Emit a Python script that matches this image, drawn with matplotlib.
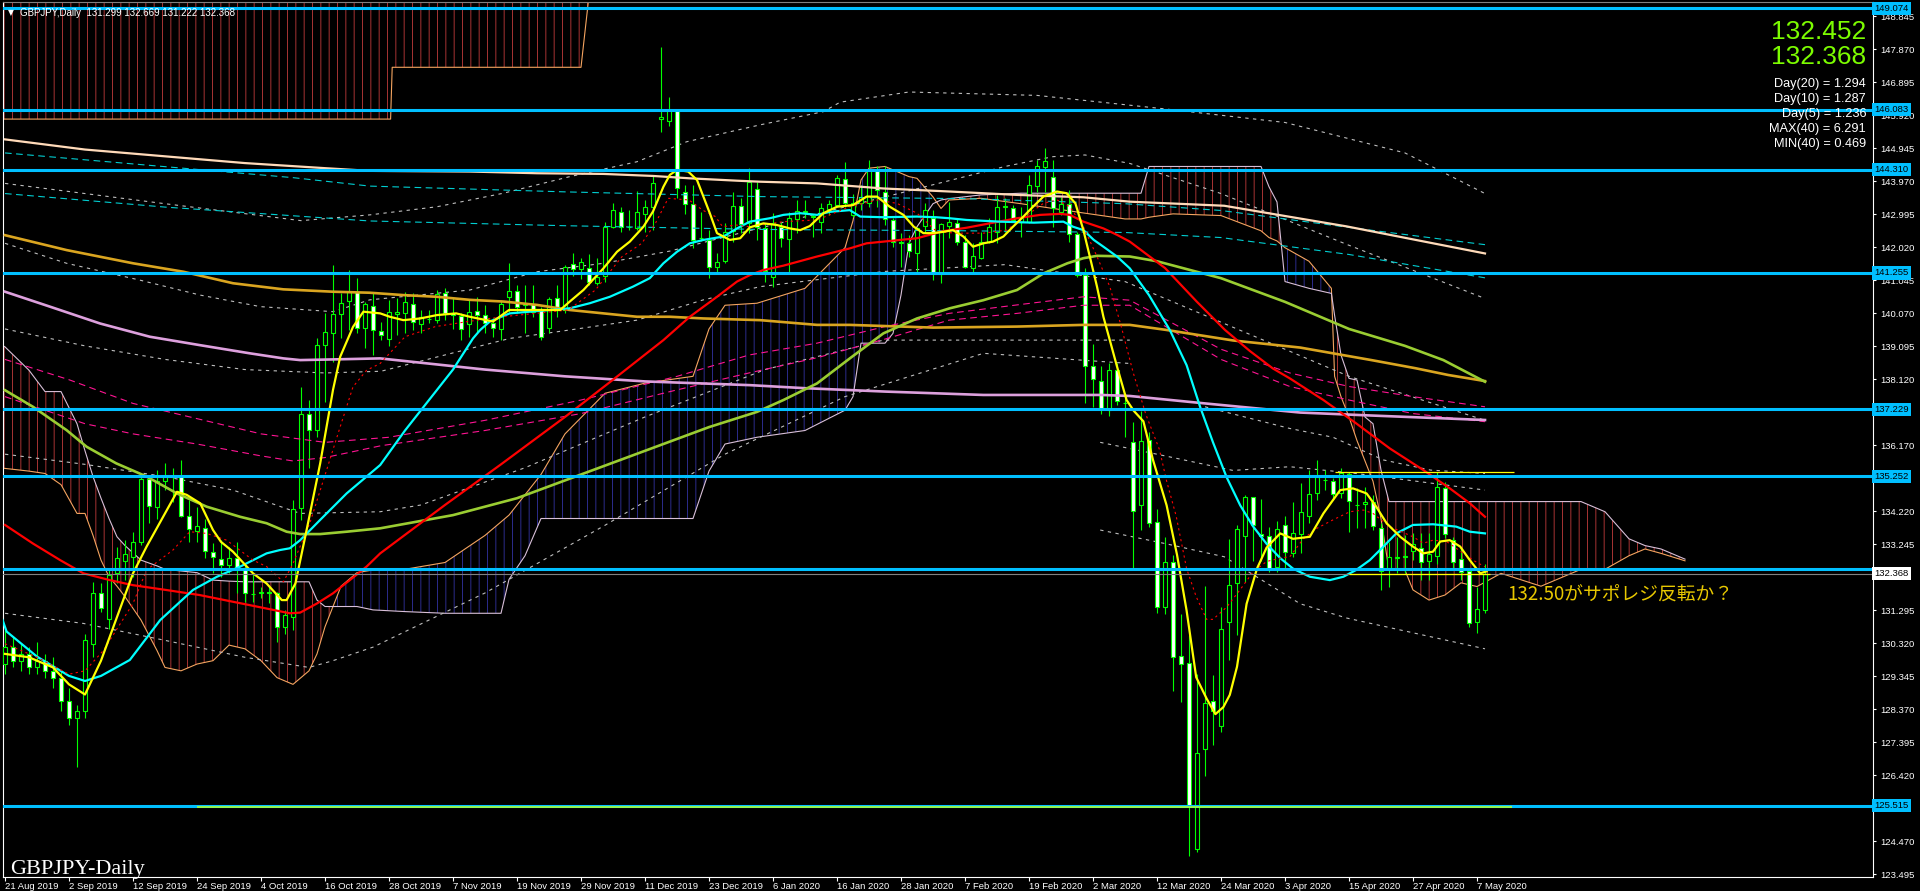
import numpy as np
import matplotlib
matplotlib.use('Agg')
import matplotlib.pyplot as plt
from matplotlib.transforms import blended_transform_factory

plt.rcParams['font.family'] = ['Liberation Sans', 'DejaVu Sans']
plt.rcParams['hatch.linewidth'] = 0.7

# ---------------------------------------------------------------------------
# daily candles, bar 0 = 21 Aug 2019 ... bar 185 = 8 May 2020
opens = [129.7, 130.2, 129.8, 130.0, 129.6, 129.8, 129.5, 129.3, 128.6, 128.1,
         128.3, 130.30, 131.79, 131.02, 132.38, 132.75, 132.87, 133.32, 135.16, 134.35,
         135.12, 135.22, 135.25, 134.07, 133.64, 133.71, 133.02, 132.79, 132.64, 132.84,
         132.53, 131.78, 131.81, 131.82, 131.79, 130.78, 131.10, 134.30, 137.09, 136.60,
         139.12, 139.47, 140.04, 140.42, 140.70, 139.62, 140.28, 139.54, 139.30, 140.03,
         140.06, 140.33, 139.76, 139.90, 139.85, 140.65, 140.06, 139.99, 139.75, 140.14,
         140.01, 139.79, 139.59, 140.55, 140.73, 140.30, 140.33, 140.16, 139.64, 140.50,
         140.16, 141.51, 141.36, 141.39, 140.97, 141.15, 142.62, 143.05, 142.60, 142.57,
         143.00, 143.21, 145.79, 145.75, 146.07, 143.66, 143.28, 142.28, 142.23, 141.44,
         141.61, 142.49, 143.24, 142.72, 143.72, 142.59, 141.14, 142.62, 142.25, 142.84,
         143.06, 142.90, 142.75, 143.14, 143.26, 144.02, 142.97, 143.31, 143.31, 144.32,
         143.66, 142.82, 142.18, 142.15, 141.83, 142.64, 142.87, 141.22, 142.65, 142.74,
         142.16, 141.39, 141.71, 142.17, 142.47, 143.20, 143.16, 142.77, 142.77, 143.82,
         144.37, 144.08, 143.06, 143.28, 142.40, 141.19, 138.50, 138.07, 137.21, 138.38,
         137.42, 136.27, 134.39, 136.33, 133.89, 131.40, 132.71, 129.93, 129.74, 124.23,
         127.18, 128.61, 127.86, 130.93, 132.08, 133.47, 134.65, 133.54, 133.49, 132.57,
         133.80, 132.99, 133.54, 134.08, 134.74, 135.14, 135.11, 134.76, 135.30, 134.40,
         134.43, 134.48, 133.71, 132.50, 132.84, 132.87, 133.05, 133.12, 132.75, 132.90,
         134.89, 133.36, 132.79, 132.46, 130.95, 131.299]
highs = [130.7, 130.5, 130.3, 130.2, 130.35, 130.0, 129.9, 129.5, 129.0, 128.5,
         130.6, 132.13, 132.10, 132.48, 133.17, 133.36, 133.61, 135.24, 135.24, 135.43,
         135.63, 135.50, 135.73, 134.55, 134.35, 134.00, 133.27, 133.36, 133.17, 133.32,
         132.62, 132.38, 131.99, 131.99, 131.84, 131.30, 134.55, 137.89, 137.50, 139.32,
         140.06, 141.49, 140.65, 141.34, 141.10, 140.40, 140.70, 139.81, 140.45, 140.50,
         140.70, 140.67, 140.16, 140.16, 140.75, 140.80, 140.50, 140.06, 140.45, 140.55,
         140.31, 139.91, 140.45, 141.54, 140.90, 140.90, 140.90, 140.26, 140.55, 140.90,
         141.49, 141.83, 141.69, 141.81, 141.69, 142.77, 143.31, 143.21, 143.10, 143.68,
         143.41, 144.15, 147.94, 146.45, 146.10, 143.85, 143.85, 143.06, 142.52, 141.83,
         142.72, 143.65, 143.46, 144.35, 143.95, 142.72, 143.02, 142.77, 143.06, 143.41,
         143.41, 143.00, 143.31, 143.41, 144.15, 144.54, 143.60, 143.85, 144.59, 144.40,
         144.40, 142.87, 142.43, 142.38, 142.62, 143.31, 143.11, 142.72, 143.36, 142.87,
         142.38, 142.13, 142.47, 142.87, 143.56, 143.46, 143.26, 143.21, 144.15, 144.59,
         144.94, 144.59, 143.51, 143.70, 142.47, 141.39, 139.17, 138.50, 138.58, 138.58,
         137.70, 136.85, 137.18, 136.56, 134.28, 133.45, 132.93, 131.19, 130.55, 129.41,
         132.02, 129.39, 131.40, 133.38, 133.82, 134.70, 134.65, 134.59, 133.76, 133.92,
         134.07, 134.50, 135.04, 135.43, 135.73, 135.43, 135.19, 135.48, 135.38, 134.89,
         134.93, 134.70, 133.86, 133.32, 133.46, 133.51, 133.56, 133.56, 133.56, 135.38,
         135.09, 133.46, 133.12, 132.50, 131.98, 132.669]
lows = [129.4, 129.6, 129.5, 129.4, 129.4, 129.3, 129.0, 128.3, 127.9, 126.65,
        128.1, 129.91, 131.25, 130.75, 132.08, 132.18, 132.28, 133.22, 133.86, 134.00,
        134.84, 134.50, 134.03, 133.32, 133.32, 132.82, 132.38, 132.28, 132.38, 131.79,
        131.54, 131.54, 131.64, 131.50, 130.36, 130.60, 130.70, 133.95, 135.48, 136.42,
        137.45, 138.63, 139.32, 139.57, 139.47, 139.03, 138.83, 139.27, 139.10, 139.42,
        139.47, 139.57, 139.47, 139.77, 139.77, 139.86, 139.60, 139.27, 139.37, 139.47,
        139.47, 139.37, 139.27, 140.11, 140.06, 139.47, 139.96, 139.27, 139.47, 139.96,
        140.06, 141.15, 141.09, 140.90, 140.90, 141.00, 142.57, 142.47, 142.52, 142.52,
        142.47, 142.52, 145.43, 145.60, 143.46, 143.00, 141.98, 142.20, 141.10, 141.24,
        141.54, 142.18, 142.43, 142.43, 142.23, 141.00, 140.85, 142.03, 141.24, 142.43,
        142.87, 142.33, 142.43, 142.97, 143.21, 143.21, 142.92, 143.10, 143.21, 143.21,
        142.67, 142.03, 141.44, 141.74, 141.24, 142.47, 141.05, 140.95, 142.28, 142.08,
        141.39, 141.24, 141.66, 142.13, 142.13, 142.47, 142.77, 142.33, 142.72, 143.65,
        143.65, 142.62, 142.97, 142.18, 141.14, 137.40, 137.30, 137.10, 137.03, 137.34,
        136.41, 132.52, 133.66, 133.76, 131.22, 131.17, 128.89, 128.58, 124.02, 124.15,
        126.38, 127.32, 127.70, 129.83, 130.55, 132.11, 132.73, 132.73, 132.42, 132.42,
        132.52, 132.87, 132.97, 133.86, 134.55, 134.84, 134.55, 134.60, 133.61, 133.71,
        133.71, 133.66, 131.89, 131.99, 132.38, 132.38, 132.77, 132.18, 132.18, 132.67,
        133.41, 132.48, 132.18, 130.80, 130.62, 131.222]
closes = [130.2, 129.8, 130.0, 129.6, 129.8, 129.5, 129.3, 128.6, 128.1, 128.3,
          130.4, 131.79, 131.35, 132.33, 132.84, 132.95, 133.30, 135.16, 134.37, 135.12,
          135.22, 135.24, 134.07, 133.68, 133.78, 133.05, 132.85, 132.62, 132.82, 132.53,
          131.79, 131.76, 131.82, 131.80, 130.80, 131.15, 134.27, 137.09, 136.61, 139.14,
          139.50, 140.03, 140.36, 140.70, 139.62, 140.34, 139.57, 139.42, 140.09, 140.09,
          140.39, 139.80, 139.94, 139.89, 140.62, 140.06, 140.00, 139.59, 140.11, 140.01,
          139.79, 139.62, 140.34, 140.73, 140.26, 140.34, 140.11, 139.37, 140.47, 140.26,
          141.44, 141.36, 141.57, 141.00, 141.12, 142.62, 143.11, 142.60, 142.62, 143.05,
          143.21, 143.90, 145.87, 146.07, 143.75, 143.29, 142.23, 142.28, 141.44, 141.59,
          142.45, 143.24, 142.70, 143.95, 142.62, 141.32, 142.72, 142.28, 142.87, 143.09,
          143.09, 142.95, 143.16, 143.29, 144.05, 143.31, 143.31, 143.50, 144.32, 143.70,
          142.84, 142.18, 142.13, 141.91, 142.57, 143.11, 141.24, 142.69, 142.75, 142.16,
          141.42, 141.76, 142.18, 142.62, 143.21, 143.22, 142.82, 142.87, 143.85, 144.41,
          144.56, 143.16, 143.29, 142.40, 141.19, 138.52, 138.11, 137.24, 138.38, 137.47,
          137.40, 134.21, 136.30, 133.87, 131.40, 132.71, 129.91, 129.70, 125.50, 127.06,
          128.56, 128.32, 130.73, 132.05, 133.68, 134.65, 133.80, 133.47, 132.50, 133.68,
          133.02, 133.56, 134.18, 134.71, 135.22, 135.15, 134.72, 135.33, 134.52, 134.39,
          134.50, 133.78, 132.45, 132.85, 132.86, 132.88, 133.25, 132.72, 132.94, 134.92,
          133.54, 132.72, 132.43, 130.90, 131.32, 132.368]

date_labels = ['21 Aug 2019', '2 Sep 2019', '12 Sep 2019', '24 Sep 2019', '4 Oct 2019',
               '16 Oct 2019', '28 Oct 2019', '7 Nov 2019', '19 Nov 2019', '29 Nov 2019',
               '11 Dec 2019', '23 Dec 2019', '6 Jan 2020', '16 Jan 2020', '28 Jan 2020',
               '7 Feb 2020', '19 Feb 2020', '2 Mar 2020', '12 Mar 2020', '24 Mar 2020',
               '3 Apr 2020', '15 Apr 2020', '27 Apr 2020', '7 May 2020']
date_bars = list(range(0, 185, 8))

# moving averages, (bar, price)
ma_yellow = [(0, 130.0), (3, 129.9), (6, 129.6), (8, 129.1), (10, 128.8), (12, 129.8),
             (16, 132.38), (17.7, 133.17), (21.5, 134.79), (22.7, 134.7), (24.4, 134.45),
             (26, 133.66), (27, 133.31), (28.5, 133.02), (31, 132.38), (32.7, 132.08),
             (34.6, 131.59), (35.2, 131.59), (36.3, 132.08), (37.7, 133.66), (39.4, 135.63),
             (41, 137.8), (41.9, 138.78), (43.5, 139.66), (44.8, 140.11), (46.9, 140.06),
             (48.1, 139.96), (49.8, 139.86), (51.9, 139.91), (54, 140.01), (56.4, 140.06),
             (58.1, 139.96), (61, 139.82), (63, 140.16), (64.6, 140.16), (67.3, 140.16),
             (69.4, 140.16), (70.6, 140.41), (72.3, 140.75), (74.8, 141.39), (76.5, 141.88),
             (78.1, 142.18), (79.8, 142.62), (81, 143.07), (82.3, 143.8), (83.1, 144.15),
             (84, 144.3), (85.4, 144.25), (86.5, 144.0), (87.3, 143.51), (88.1, 143.02),
             (89, 142.43), (89.8, 142.33), (90.6, 142.23), (91.9, 142.28), (93.1, 142.6),
             (94.8, 142.72), (96.5, 142.67), (98.1, 142.57), (99.4, 142.52), (100.6, 142.64),
             (102.3, 143.02), (104, 143.21), (106, 143.26), (107.7, 143.51), (109, 143.51),
             (110.6, 143.21), (112.3, 142.97), (113.6, 142.62), (114.8, 142.43), (116, 142.43),
             (117.3, 142.47), (118.5, 142.52), (119.8, 142.33), (121, 142.03), (122.3, 142.13),
             (123.5, 142.18), (124.8, 142.33), (126, 142.62), (127.3, 142.92), (128.5, 143.21),
             (129.8, 143.51), (131.5, 143.66), (132.7, 143.61), (133.8, 143.31), (134.8, 142.52),
             (135.6, 141.74), (136.5, 140.85), (137.3, 139.96), (138.1, 139.27), (139, 138.49),
             (140.2, 137.5), (141.1, 137.18), (142.3, 136.87), (143.5, 135.73), (145.2, 134.39),
             (146.5, 132.93), (147.7, 131.28), (148.9, 129.31), (150.2, 128.68), (151.3, 128.22),
             (152.3, 128.43), (153.1, 128.79), (154, 129.62), (155.2, 131.48), (156.5, 132.52),
             (157.7, 133.14), (159.4, 133.56), (161, 133.4), (163.1, 133.46), (164.8, 134.15),
             (166.9, 134.84), (168.5, 134.89), (170.2, 134.74), (171.4, 134.35), (172.7, 133.86),
             (174.4, 133.46), (176, 133.17), (177.3, 132.97), (178.5, 133.02), (179.4, 133.32),
             (180.6, 133.36), (181.9, 133.17), (183.1, 132.77), (184.4, 132.38), (185.2, 132.44)]

ma_red_dot = [(0, 130.3), (4, 129.9), (8, 129.4), (10, 129.5), (12.3, 130.1), (16, 131.49),
              (17.7, 132.48), (21, 133.07), (23.1, 133.61), (25.2, 133.56), (27.7, 133.36),
              (31, 132.77), (32.7, 132.58), (34.8, 132.13), (36, 132.67), (38.1, 133.86),
              (40.2, 135.43), (41.9, 136.71), (43.5, 137.89), (45.2, 138.38), (46.9, 138.58),
              (50, 139.37), (53.8, 139.67), (57.9, 139.82), (62.1, 139.96), (66.3, 140.06),
              (70.4, 140.16), (73.8, 140.75), (77.1, 141.73), (79.6, 142.13), (81.3, 142.72),
              (82.9, 143.46), (85.5, 143.41), (87.2, 143.11), (88.8, 142.92), (89.7, 142.62),
              (91.4, 142.67), (93.1, 142.62), (97.3, 142.77), (101.5, 142.82), (105.6, 143.21),
              (109, 143.41), (111.5, 143.31), (114, 143.02), (116.5, 142.47), (119, 142.43),
              (122.3, 142.43), (125.2, 142.52), (128.1, 143.02), (129.8, 143.31), (131.5, 143.41),
              (133.1, 143.21), (134.8, 142.62), (136.5, 141.74), (138.1, 140.85), (139.5, 139.7),
              (141, 138.33), (142.6, 137.08), (144.3, 136.04), (145.2, 135.11), (146.4, 134.07),
              (147.7, 132.52), (148.9, 131.69), (150.2, 131.02), (151, 131.02), (152.7, 131.38),
              (154.4, 131.9), (156, 132.42), (157.7, 132.73), (159.4, 132.83), (160.6, 132.87),
              (162.3, 133.4), (163.9, 133.7), (166, 133.96), (168.1, 134.2), (169.8, 134.25),
              (171, 134.15), (173.1, 133.76), (176, 133.46), (177.3, 133.27), (178.5, 133.36),
              (180.2, 133.32), (182.3, 132.97), (183.5, 132.77), (185, 132.57)]

ma_cyan = [(-0.3, 131.0), (0.2, 130.66), (4, 129.92), (8, 129.35), (10, 129.2), (12, 129.35),
           (15.6, 129.82), (19.4, 131.0), (23.5, 131.89), (26.5, 132.28), (29.4, 132.58),
           (32.7, 132.97), (34.4, 133.07), (35.6, 133.12), (36.9, 133.36), (39.4, 133.96),
           (42.7, 134.74), (45.2, 135.24), (46.9, 135.58), (50, 136.6), (53, 137.5), (56, 138.4),
           (58.5, 139.32), (59.4, 139.57), (60.6, 139.82), (63.1, 140.06), (65.6, 140.11),
           (68.1, 140.16), (70.6, 140.21), (73.1, 140.36), (75.6, 140.55), (78.5, 140.85),
           (80.6, 141.1), (82.3, 141.54), (84, 141.88), (85.6, 142.13), (87.3, 142.23),
           (89.8, 142.33), (91.5, 142.57), (93.1, 142.77), (95.6, 142.87), (97.3, 142.97),
           (99.4, 143.02), (101.5, 142.97), (103.1, 143.06), (105.6, 143.11), (106.9, 142.92),
           (109.8, 142.9), (114, 142.92), (116.4, 142.9), (118.1, 142.87), (120.2, 142.82),
           (124.4, 142.77), (128.6, 142.74), (132.3, 142.77), (133.5, 142.62), (134.8, 142.52),
           (136.1, 142.23), (137.3, 142.03), (139, 141.74), (140.6, 141.39), (143, 140.6),
           (145.6, 139.57), (147.7, 138.53), (149.4, 137.29), (151, 136.25), (152.7, 135.22),
           (154.4, 134.39), (156, 133.77), (157.7, 133.25), (159.4, 132.83), (161, 132.52),
           (163.1, 132.28), (165.6, 132.18), (167.3, 132.28), (168.9, 132.48), (170.6, 132.77),
           (172.3, 133.17), (173.9, 133.56), (176, 133.81), (178.5, 133.83), (181.4, 133.76),
           (183.1, 133.61), (185, 133.56)]

ma_red = [(0, 133.81), (3.5, 133.26), (6.9, 132.77), (9.8, 132.38), (13.1, 132.18), (16, 132.03),
          (20.1, 131.89), (24.3, 131.74), (28.5, 131.54), (32.7, 131.34), (35.6, 131.2),
          (36.9, 131.22), (39, 131.49), (41, 131.79), (43.1, 132.18), (45.2, 132.58),
          (46.9, 132.97), (55, 134.4), (62, 135.6), (70, 137.0), (76, 138.1), (82.3, 139.27),
          (85.6, 139.96), (89, 140.55), (91.5, 141.0), (93.1, 141.19), (94.8, 141.34),
          (97.3, 141.47), (101.5, 141.74), (105.6, 141.98), (107.7, 142.13), (109.8, 142.18),
          (114, 142.28), (117.3, 142.49), (120.2, 142.59), (123.1, 142.72), (126.5, 142.87),
          (129.4, 142.97), (131.9, 143.0), (133.1, 142.97), (134.8, 142.77), (137.3, 142.57),
          (139, 142.38), (140.6, 142.18), (145, 141.4), (149, 140.4), (152.5, 139.57),
          (155.6, 138.95), (158.5, 138.43), (160.6, 138.14), (164.8, 137.5), (168.9, 136.81),
          (173.1, 136.07), (177.3, 135.43), (180.6, 134.89), (183.1, 134.45), (185, 134.05)]

ma_ygreen = [(0, 137.79), (3.5, 137.3), (7.7, 136.61), (10.2, 136.12), (13.9, 135.63),
             (17.7, 135.24), (21.5, 134.74), (25.2, 134.35), (29.4, 134.05), (32.7, 133.86),
             (35.2, 133.61), (36.9, 133.54), (39.4, 133.54), (42.7, 133.61), (46.9, 133.71),
             (56, 134.1), (64, 134.6), (72, 135.3), (80, 136.0), (88, 136.7), (94, 137.15),
             (97.3, 137.5), (101.5, 137.99), (105.6, 138.73), (109.8, 139.47), (114, 139.91),
             (118.1, 140.21), (122.3, 140.45), (126.5, 140.75), (129.8, 141.24), (132.8, 141.54),
             (134.8, 141.69), (136.5, 141.76), (140.6, 141.74), (144, 141.6), (152, 141.1),
             (160, 140.4), (168, 139.6), (175, 139.1), (179.8, 138.68), (185, 138.04)]

ma_gold = [(0, 142.37), (7.7, 141.93), (16, 141.54), (22.3, 141.29), (28.5, 140.95),
           (34.8, 140.77), (41, 140.7), (45.6, 140.67), (49.8, 140.6), (54, 140.55),
           (58.1, 140.46), (62.3, 140.41), (66.5, 140.31), (70.6, 140.16), (74.8, 140.06),
           (79, 139.96), (83.1, 139.96), (87.3, 139.91), (91.5, 139.88), (94.4, 139.86),
           (101.5, 139.72), (105.6, 139.72), (116, 139.64), (126.5, 139.67), (134.8, 139.72),
           (140.6, 139.72), (145.2, 139.57), (153.5, 139.26), (161.9, 139.05), (170.8, 138.68),
           (176.3, 138.44), (180.4, 138.24), (185, 138.06)]

ma_plum = [(0, 140.7), (5.6, 140.26), (11.9, 139.76), (18.1, 139.37), (24.4, 139.12),
           (30.6, 138.88), (34.8, 138.73), (36.9, 138.68), (41, 138.7), (46.9, 138.73),
           (60, 138.4), (70, 138.2), (80, 138.05), (93.1, 137.94), (100, 137.85), (110, 137.75),
           (122.3, 137.65), (137, 137.65), (140.6, 137.62), (150, 137.4), (161.9, 137.13),
           (170, 137.05), (185, 136.91)]

ma_wheat = [(0, 145.2), (10, 144.9), (20, 144.7), (30, 144.5), (40, 144.35), (45.6, 144.27),
            (58.1, 144.25), (66.5, 144.2), (74.8, 144.18), (81, 144.12), (85.6, 144.05),
            (91.5, 143.98), (94.4, 143.95), (101.5, 143.9), (109.8, 143.75), (118.1, 143.66),
            (126.5, 143.56), (134.8, 143.49), (140.6, 143.36), (152.4, 143.24), (167.7, 142.63),
            (185, 141.83)]

dash_cyan_hi = [(0, 144.8), (36, 144.07), (45.6, 143.82), (70, 143.65), (94.4, 143.51),
                (120, 143.45), (140, 143.3), (152, 143.1), (168, 142.6), (185, 142.09)]
dash_cyan_lo = [(0, 143.6), (20, 143.2), (45.6, 142.79), (70, 142.65), (94.4, 142.54),
                (120, 142.5), (140, 142.45), (152, 142.3), (168, 141.8), (185, 141.11)]
dash_pink_hi = [(0, 138.7), (8, 138.1), (16, 137.4), (24, 136.95), (32, 136.5), (40, 136.25),
                (48, 136.4), (60, 136.9), (72, 137.5), (84, 138.2), (93, 138.83), (101.5, 139.18),
                (110, 139.67), (118, 140.06), (126.5, 140.31), (134.8, 140.55), (140.6, 140.45),
                (152, 139.0), (160.6, 138.3), (168, 137.9), (176, 137.6), (185, 137.3)]
dash_pink_lo = [(0, 137.6), (10, 136.8), (16, 136.5), (24, 136.2), (32, 135.85), (36, 135.7),
                (40, 135.8), (47, 136.15), (60, 136.6), (72, 137.1), (84, 137.8), (93, 138.3),
                (101.5, 138.75), (110, 139.3), (118, 139.86), (126.5, 140.06), (134.8, 140.3),
                (140.6, 140.3), (152, 138.7), (160.6, 137.9), (168, 137.5), (176, 137.1),
                (185, 136.86)]

dotted_bands = [
    [(0, 143.9), (20, 143.3), (37, 142.8), (45.6, 142.97), (54, 143.21), (62.3, 143.61),
     (70.6, 144.1), (79, 144.54), (85.2, 145.13), (94.4, 145.63), (102.3, 146.02),
     (104.4, 146.3), (113, 146.6), (129, 146.5), (145, 146.1), (160, 145.7), (175, 144.8),
     (185, 143.6)],
    [(0, 142.13), (7.7, 141.54), (16.9, 141.04), (24.4, 140.6), (31.9, 140.26), (41, 140.11),
     (45.6, 140.46), (58.1, 140.75), (66.5, 141.29), (74.8, 141.54), (83.1, 141.9), (93, 142.5),
     (110, 143.5), (125, 144.4), (131, 144.69), (135, 144.74), (140.6, 144.49), (152, 143.6),
     (167.7, 142.1), (185, 140.5)],
    [(0, 139.6), (10, 139.1), (20, 138.7), (30, 138.4), (40, 138.3), (47, 138.35),
     (63.1, 139.32), (70.6, 139.57), (79, 139.86), (87.3, 140.46), (94.4, 140.85), (110, 141.3),
     (125, 141.5), (140, 141.0), (152, 139.8), (168, 138.2), (185, 136.9)],
    [(0, 135.9), (10, 135.6), (20.2, 135.23), (28.5, 134.84), (36.9, 134.15), (46.9, 134.2),
     (52, 134.4), (65, 135.5), (80, 137.0), (95, 138.4), (109.8, 139.27), (140.6, 139.27)],
    [(0, 131.2), (9.8, 130.9), (20, 130.4), (30, 129.9), (38, 129.6), (41, 129.8), (46, 130.2),
     (60, 131.8), (75, 133.8), (90, 135.9), (105, 137.6), (122.3, 138.88), (140.6, 138.58)],
    [(150, 137.3), (160.6, 136.66), (166, 136.4), (172.3, 135.73), (178.2, 135.43), (185, 135.33)],
    [(136.9, 136.25), (145.2, 135.84), (153.5, 135.42), (160.6, 135.53), (168.9, 135.33),
     (185, 134.84)],
    [(136.9, 133.66), (145.2, 133.25), (152.4, 132.87), (161.9, 131.48), (167.7, 131.06),
     (185, 130.15)],
]

# ichimoku cloud: bar, senkou A, senkou B
cloud_x = [-1, 0, 3, 5, 7, 9, 10, 11, 12, 13, 14, 15, 17, 19, 20, 22, 24, 26, 28, 30, 32, 34,
           36, 38, 39, 40, 42, 44, 46, 50, 55, 60, 62, 63, 65, 67, 70, 75, 80, 86, 88, 90, 94,
           100, 105, 106, 107, 108, 110, 111, 112, 113, 114, 116, 117, 118, 122, 127, 135, 140,
           142, 143, 146, 152, 157, 158, 159, 160, 163, 165.8, 166.2, 167, 168, 169, 170, 171,
           172, 173, 175, 176, 178, 180, 182, 184, 187, 192, 197, 200, 203, 205, 207, 210]
span_a = [135.5, 135.48, 135.4, 135.33, 135.0, 134.15, 134.15, 133.5, 132.77, 132.28, 132.0,
          131.69, 131.0, 130.1, 129.6, 129.5, 129.7, 129.8, 130.26, 130.15, 129.8, 129.3, 129.1,
          129.5, 130.0, 130.8, 132.0, 132.4, 132.48, 132.5, 132.7, 133.5, 133.9, 134.1, 134.7,
          135.3, 136.5, 137.7, 138.0, 138.2, 139.6, 140.3, 140.36, 140.8, 142.0, 142.8, 144.0,
          144.35, 144.4, 144.3, 144.2, 144.1, 144.05, 143.5, 143.16, 143.41, 143.46, 143.3,
          143.02, 142.85, 142.85, 142.9, 143.0, 142.95, 142.5, 142.3, 142.2, 142.0, 141.6, 140.8,
          138.2, 137.6, 137.0, 136.3, 135.7, 135.1, 134.0, 132.47, 132.47, 131.89, 131.59,
          131.74, 132.1, 131.99, 132.38, 132.0, 132.5, 132.5, 132.9, 133.1, 132.97, 132.75]
span_b = [139.2, 139.07, 138.38, 137.75, 137.75, 136.8, 136.0, 135.24, 134.6, 134.0, 133.46,
          133.2, 132.77, 132.6, 132.5, 132.45, 132.4, 132.18, 132.15, 132.13, 132.13, 132.13,
          132.13, 132.13, 131.59, 131.4, 131.4, 131.4, 131.3, 131.25, 131.2, 131.2, 131.2, 132.2,
          132.9, 134.0, 134.0, 134.0, 134.0, 134.0, 135.4, 136.2, 136.4, 136.6, 137.2, 137.6,
          139.18, 139.18, 139.18, 139.47, 140.6, 142.13, 142.62, 143.3, 143.41, 143.45, 143.56,
          143.61, 143.61, 143.61, 143.61, 144.4, 144.4, 144.4, 144.4, 143.8, 143.35, 141.0, 140.8,
          140.65, 140.0, 138.83, 138.14, 138.09, 137.0, 136.8, 135.43, 134.5, 134.5, 134.5, 134.5,
          134.5, 134.5, 134.5, 134.5, 134.5, 134.5, 134.2, 133.4, 133.2, 133.1, 132.8]

# long-period cloud at the top left
cloud2_x = [-1, 48.2, 48.4, 72.0, 73.5]
span2_a = [145.8, 145.8, 147.33, 147.33, 150.5]
span2_b = [151.0, 151.0, 151.0, 151.0, 151.0]

levels = [149.074, 146.083, 144.310, 141.255, 137.229, 135.252, 132.50, 125.515]
level_tags = [149.074, 146.083, 144.310, 141.255, 137.229, 135.252, 125.515]
bid = 132.368
hline_yellow = [(166.3, 188.6, 135.36), (168.0, 185.6, 132.36)]
hline_ygreen = (24.0, 188.4, 125.47)

stats = ['Day(20) = 1.294', 'Day(10) = 1.287', 'Day(5) = 1.236', 'MAX(40) = 6.291', 'MIN(40) = 0.469']

# ---------------------------------------------------------------------------
W, H = 1920, 891
fig = plt.figure(figsize=(W / 100, H / 100), dpi=100, facecolor='black')
ax = fig.add_axes([3 / W, 14 / H, 1870 / W, 875 / H])
ax.set_facecolor('black')
ax.set_xlim(-0.25, 233.5)
ax.set_ylim(123.409, 149.259)


def xy(pairs):
    a = np.array(pairs, dtype=float)
    return a[:, 0], a[:, 1]


# clouds
cx = np.array(cloud_x, dtype=float)
sa = np.array(span_a)
sb = np.array(span_b)
ax.fill_between(cx, sa, sb, where=sb >= sa, interpolate=True, facecolor='none',
                edgecolor='#A83434', hatch='||', linewidth=0, zorder=1)
ax.fill_between(cx, sa, sb, where=sa > sb, interpolate=True, facecolor='none',
                edgecolor='#2C2C8C', hatch='||', linewidth=0, zorder=1)
ax.plot(cx, sa, color='#F4A460', lw=0.8, zorder=1.5)
ax.plot(cx, sb, color='#D8BFD8', lw=0.8, zorder=1.5)

c2x = np.array(cloud2_x)
ax.fill_between(c2x, span2_a, span2_b, facecolor='none', edgecolor='#A83434',
                hatch='||', linewidth=0, zorder=1)
ax.plot(c2x, span2_a, color='#F4A460', lw=0.8, zorder=1.5)

# dotted bands
for band in dotted_bands:
    bx, by = xy(band)
    ax.plot(bx, by, color='#BEBEBE', lw=0.8, ls=(0, (3, 4)), zorder=2)

# candles
bx = np.arange(len(opens))
o = np.array(opens); c = np.array(closes)
ax.vlines(bx, lows, highs, color='#00FF00', lw=0.8, zorder=3)
body_col = ['black' if cc >= oo else 'white' for oo, cc in zip(o, c)]
ax.bar(bx, np.maximum(np.abs(c - o), 0.01), bottom=np.minimum(o, c), width=0.62,
       color=body_col, edgecolor='#00FF00', linewidth=0.8, zorder=4)

# moving averages
for pairs, col, lw, ls in [
        (dash_pink_hi, '#FF1493', 0.8, (0, (6, 4))),
        (dash_pink_lo, '#FF1493', 0.8, (0, (6, 4))),
        (dash_cyan_hi, '#00CED1', 0.8, (0, (6, 4))),
        (dash_cyan_lo, '#00CED1', 0.8, (0, (6, 4))),
        (ma_wheat, '#FFDAB9', 1.6, '-'),
        (ma_plum, '#DDA0DD', 1.9, '-'),
        (ma_gold, '#DAA520', 1.9, '-'),
        (ma_ygreen, '#9ACD32', 1.9, '-'),
        (ma_red, '#FF0000', 1.6, '-'),
        (ma_cyan, '#00FFFF', 1.6, '-'),
        (ma_red_dot, '#FF0000', 0.8, (0, (2, 3))),
        (ma_yellow, '#FFFF00', 1.6, '-')]:
    lx, ly = xy(pairs)
    ax.plot(lx, ly, color=col, lw=lw, ls=ls, zorder=5)

# horizontal levels
ax.axhline(bid, color='#808080', lw=0.8, zorder=5.5)
for lv in levels:
    ax.axhline(lv, color='#00BFFF', lw=2.2, zorder=6)
for x0, x1, lv in hline_yellow:
    ax.hlines(lv, x0, x1, color='#FFFF00', lw=0.9, zorder=6)
ax.hlines(hline_ygreen[2], hline_ygreen[0], hline_ygreen[1], color='#ADFF2F', lw=1.2, zorder=6)

ax.text(187.75, 131.74, '132.50がサポレジ反転か？', color='#E8C800', fontsize=13.5,
        family=['Noto Sans CJK JP', 'DejaVu Sans'], va='center', ha='left', zorder=7)

# axes styling
for side in ['left', 'bottom', 'right']:
    ax.spines[side].set_color('white')
    ax.spines[side].set_linewidth(0.8)
ax.spines['top'].set_color('#808080')
ax.yaxis.tick_right()
ticks = [148.845 - 0.975 * k for k in range(27)]
tags_all = level_tags + [bid]
# price labels hidden under a level tag stay blank, as on the terminal
tick_text = ['' if min(abs(t - g) for g in tags_all) < 0.13 else '%.3f' % t for t in ticks]
ax.set_yticks(ticks)
ax.set_yticklabels(tick_text)
ax.tick_params(axis='y', colors='white', labelsize=6.8, length=2.5, width=0.8, pad=2.5)
ax.set_xticks(date_bars)
ax.set_xticklabels(date_labels, ha='left')
ax.tick_params(axis='x', colors='white', labelsize=6.8, length=3, width=0.8, pad=0.5)

trans = blended_transform_factory(ax.transAxes, ax.transData)
for lv in level_tags:
    ax.text(1.0 + 1.5 / 1870, lv, '%.3f' % lv, transform=trans, ha='left', va='center',
            fontsize=6.8, color='black', zorder=10, clip_on=False,
            bbox=dict(boxstyle='square,pad=0.22', fc='#00BFFF', ec='none'))
ax.text(1.0 + 1.5 / 1870, bid, '%.3f' % bid, transform=trans, ha='left', va='center',
        fontsize=6.8, color='black', zorder=10, clip_on=False,
        bbox=dict(boxstyle='square,pad=0.22', fc='white', ec='none'))

# header and info texts
fig.text(8 / W, 1 - 13 / H, '▼', fontsize=5.5, color='white', va='center',
         family='DejaVu Sans')
fig.text(20 / W, 1 - 13 / H, 'GBPJPY,Daily  131.299 132.669 131.222 132.368',
         fontsize=7, color='white', va='center')
fig.text(1866 / W, 1 - 32 / H, '132.452', fontsize=19, color='#7CFC00', ha='right', va='center')
fig.text(1866 / W, 1 - 57 / H, '132.368', fontsize=19, color='#7CFC00', ha='right', va='center')
for k, s in enumerate(stats):
    fig.text(1866 / W, 1 - (84 + 15.1 * k) / H, s, fontsize=9.2, color='white',
             ha='right', va='center')
fig.text(10 / W, 1 - 874 / H, 'GBPJPY-Daily', fontsize=16, color='white',
         family=['Liberation Serif', 'DejaVu Serif'], va='baseline')

fig.savefig('out.png', dpi=100, facecolor='black')
